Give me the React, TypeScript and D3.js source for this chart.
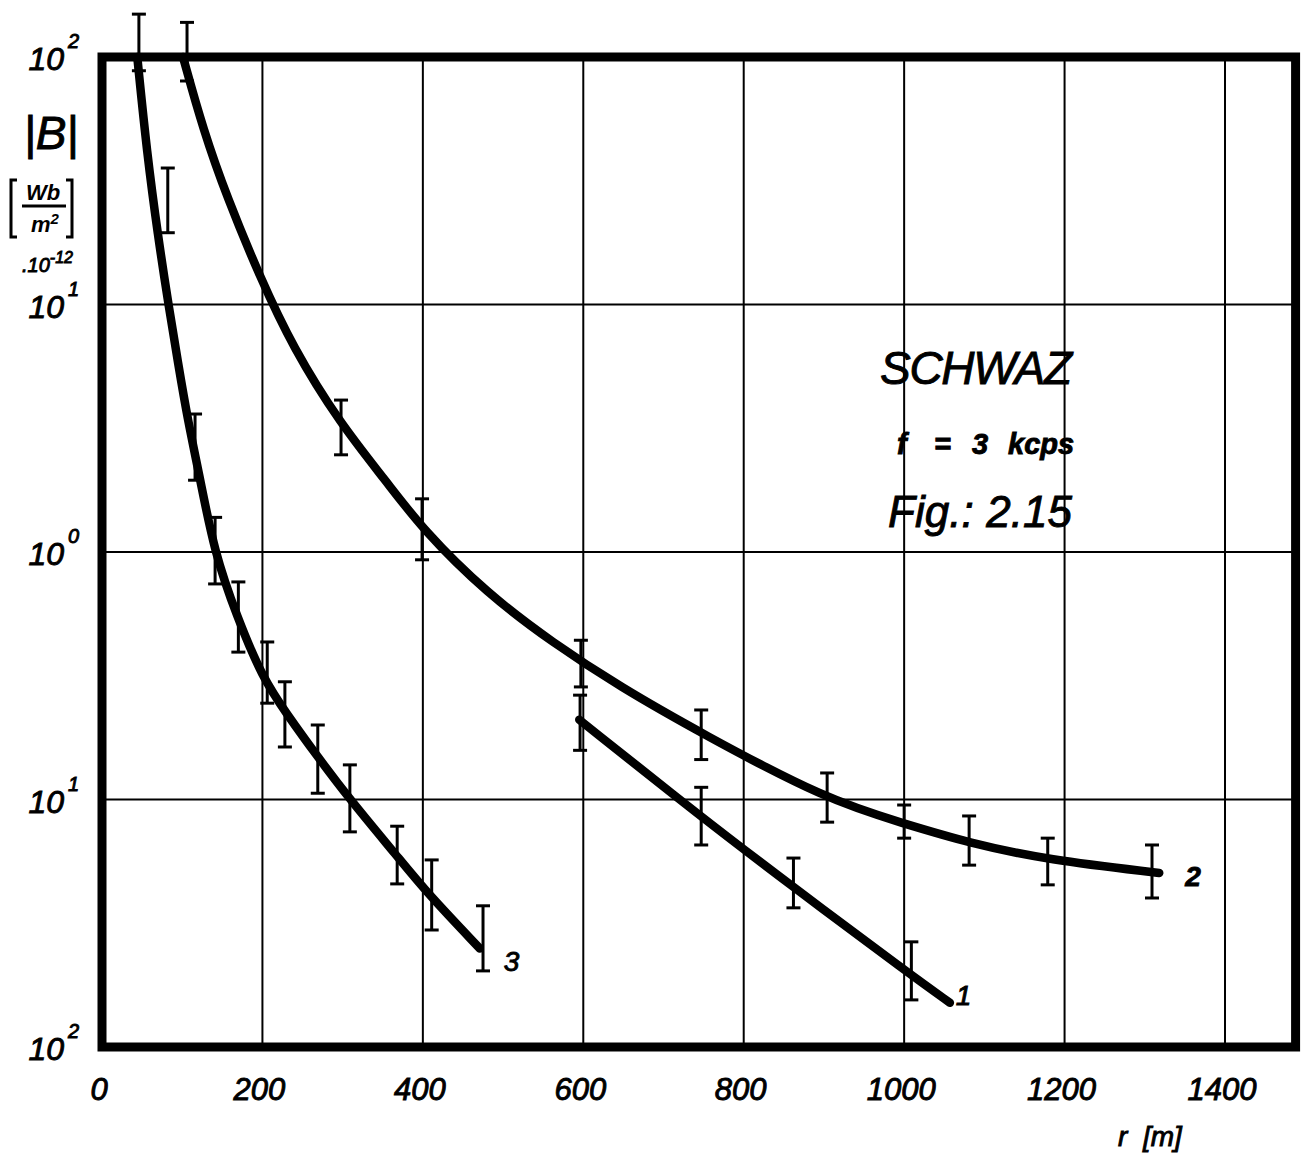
import React from "react";
import * as d3 from "d3";

// distance r [m] and |B| [Wb/m^2 * 10^-12]
const curve1R = [595, 747, 862, 1009, 1057];
const curve1B = [0.21, 0.085, 0.0442, 0.0195, 0.0151];

const curve2R = [101, 126, 156, 197, 238, 297, 355, 400, 480, 562, 646, 746, 904, 1000, 1081, 1179, 1318];
const curve2B = [100, 51, 27, 12.9, 6.7, 3.3, 1.92, 1.23, 0.68, 0.43, 0.285, 0.186, 0.0995, 0.08, 0.0667, 0.057, 0.0505];

const curve3R = [44, 56, 70, 82, 95, 107, 122, 140, 168, 200, 231, 268, 309, 368, 405, 471];
const curve3B = [100, 41, 18.7, 10.4, 5.75, 3.4, 2.0, 1.0, 0.55, 0.31, 0.22, 0.15, 0.1, 0.059, 0.042, 0.025];

// measured points with error bars (upper / lower)
const bars1R = [596, 747, 862, 1009];
const bars1Hi = [0.264, 0.112, 0.058, 0.0266];
const bars1Lo = [0.158, 0.0655, 0.0365, 0.0155];

const bars2R = [106, 298, 399, 597, 747, 904, 1000, 1081, 1179, 1309];
const bars2Hi = [138, 4.11, 1.64, 0.44, 0.23, 0.128, 0.095, 0.0858, 0.0698, 0.0655];
const bars2Lo = [80, 2.47, 0.93, 0.285, 0.145, 0.081, 0.0698, 0.0543, 0.0452, 0.04];

const bars3R = [46, 82, 116, 141, 170, 206, 228, 269, 309, 368, 411, 475];
const bars3Hi = [149, 35.6, 3.61, 1.38, 0.757, 0.433, 0.299, 0.2, 0.138, 0.078, 0.057, 0.0372];
const bars3Lo = [88, 19.5, 1.95, 0.743, 0.394, 0.245, 0.163, 0.106, 0.074, 0.0456, 0.0297, 0.0203];

const xTicks = [0, 200, 400, 600, 800, 1000, 1200, 1400];
const xGrid = [200, 400, 600, 800, 1000, 1200, 1400];
const yTicks = [1e2, 1e1, 1e0, 1e-1, 1e-2];
const yTickExp = ["2", "1", "0", "1", "2"]; // as printed in the scan
const yGrid = [1e1, 1e0, 1e-1];
const rMax = 1488;

const W = 1305;
const H = 1157;
const font = "'Liberation Sans', Arial, sans-serif";

const x = d3.scaleLinear().domain([0, 1400]).range([102, 1225]);
const y = d3.scaleLog().domain([1e-2, 1e2]).range([1047, 57]);

const line = d3
  .line<[number, number]>()
  .x((d) => x(d[0]))
  .y((d) => y(d[1]))
  .curve(d3.curveBasis);

const zip = (a: number[], b: number[]) => a.map((v, i) => [v, b[i]] as [number, number]);

const ErrorBars = ({ r, hi, lo }: { r: number[]; hi: number[]; lo: number[] }) => (
  <g stroke="#000" strokeWidth={3}>
    {r.map((rv, i) => (
      <g key={i}>
        <line x1={x(rv)} x2={x(rv)} y1={y(hi[i])} y2={y(lo[i])} />
        <line x1={x(rv) - 7} x2={x(rv) + 7} y1={y(hi[i])} y2={y(hi[i])} />
        <line x1={x(rv) - 7} x2={x(rv) + 7} y1={y(lo[i])} y2={y(lo[i])} />
      </g>
    ))}
  </g>
);

export default function App() {
  const thick = { stroke: "#000", strokeWidth: 0.9 };
  return (
    <svg
      width={W}
      height={H}
      style={{ position: "absolute", left: 0, top: 0, background: "#fff" }}
      fontFamily={font}
    >
      <rect width={W} height={H} fill="#fff" />

      {/* grid */}
      <g stroke="#000" strokeWidth={2}>
        {xGrid.map((t) => (
          <line key={t} x1={x(t)} x2={x(t)} y1={y(1e2)} y2={y(1e-2)} />
        ))}
        {yGrid.map((t) => (
          <line key={t} x1={x(0)} x2={x(rMax)} y1={y(t)} y2={y(t)} />
        ))}
      </g>

      {/* frame */}
      <rect
        x={x(0)}
        y={y(1e2)}
        width={x(rMax) - x(0)}
        height={y(1e-2) - y(1e2)}
        fill="none"
        stroke="#000"
        strokeWidth={9}
      />

      {/* fitted curves */}
      <g fill="none" stroke="#000" strokeWidth={8.5} strokeLinecap="round">
        <path d={line(zip(curve1R, curve1B)) || ""} />
        <path d={line(zip(curve2R, curve2B)) || ""} />
        <path d={line(zip(curve3R, curve3B)) || ""} />
      </g>

      <ErrorBars r={bars1R} hi={bars1Hi} lo={bars1Lo} />
      <ErrorBars r={bars2R} hi={bars2Hi} lo={bars2Lo} />
      <ErrorBars r={bars3R} hi={bars3Hi} lo={bars3Lo} />

      {/* curve numbers */}
      <g fontStyle="italic" fontSize={28} {...thick}>
        <text x={x(curve3R[curve3R.length - 1]) + 24} y={y(curve3B[curve3B.length - 1]) + 22}>3</text>
        <text x={x(curve1R[curve1R.length - 1]) + 6} y={y(curve1B[curve1B.length - 1]) + 2}>1</text>
        <text x={x(curve2R[curve2R.length - 1]) + 26} y={y(curve2B[curve2B.length - 1]) + 13} fontWeight="bold">2</text>
      </g>

      {/* y tick labels */}
      <g fontStyle="italic" {...thick}>
        {yTicks.map((t, i) => (
          <g key={i}>
            <text x={64} y={y(t) + 13} fontSize={32} textAnchor="end">10</text>
            <text x={68} y={y(t) - 9} fontSize={20}>{yTickExp[i]}</text>
          </g>
        ))}
      </g>

      {/* x tick labels */}
      <g fontStyle="italic" fontSize={31} textAnchor="middle" {...thick}>
        {xTicks.map((t) => (
          <text key={t} x={x(t) - 3} y={1100}>{t}</text>
        ))}
      </g>
      <text x={1118} y={1146} fontStyle="italic" fontSize={28} {...thick}>
        r&#160;&#160;[m]
      </text>

      {/* y axis title */}
      <text x={51} y={149} fontSize={46} fontStyle="italic" textAnchor="middle" {...thick}>|B|</text>
      <g stroke="#000" strokeWidth={3} fill="none">
        <path d="M17,180 H11 V237 H17" />
        <path d="M66,180 H72 V237 H66" />
        <line x1={22} x2={66} y1={206} y2={206} />
      </g>
      <text x={43} y={200} fontSize={22} fontWeight="bold" fontStyle="italic" textAnchor="middle">Wb</text>
      <text x={45} y={232} fontSize={22} fontWeight="bold" fontStyle="italic" textAnchor="middle">
        m<tspan dy={-8} fontSize={15}>2</tspan>
      </text>
      <text x={22} y={272} fontSize={20} fontStyle="italic" {...thick}>
        .10<tspan dy={-9} fontSize={16}>-12</tspan>
      </text>

      {/* annotation */}
      <g fontStyle="italic" {...thick}>
        <text x={976} y={384} fontSize={46} textAnchor="middle" textLength={192}>SCHWAZ</text>
        <g fontSize={29} fontWeight="bold">
          <text x={897} y={454}>f</text>
          <text x={934} y={454}>=</text>
          <text x={972} y={454}>3</text>
          <text x={1008} y={454}>kcps</text>
        </g>
        <text x={980} y={527} fontSize={44} textAnchor="middle" textLength={184}>Fig.: 2.15</text>
      </g>
    </svg>
  );
}
